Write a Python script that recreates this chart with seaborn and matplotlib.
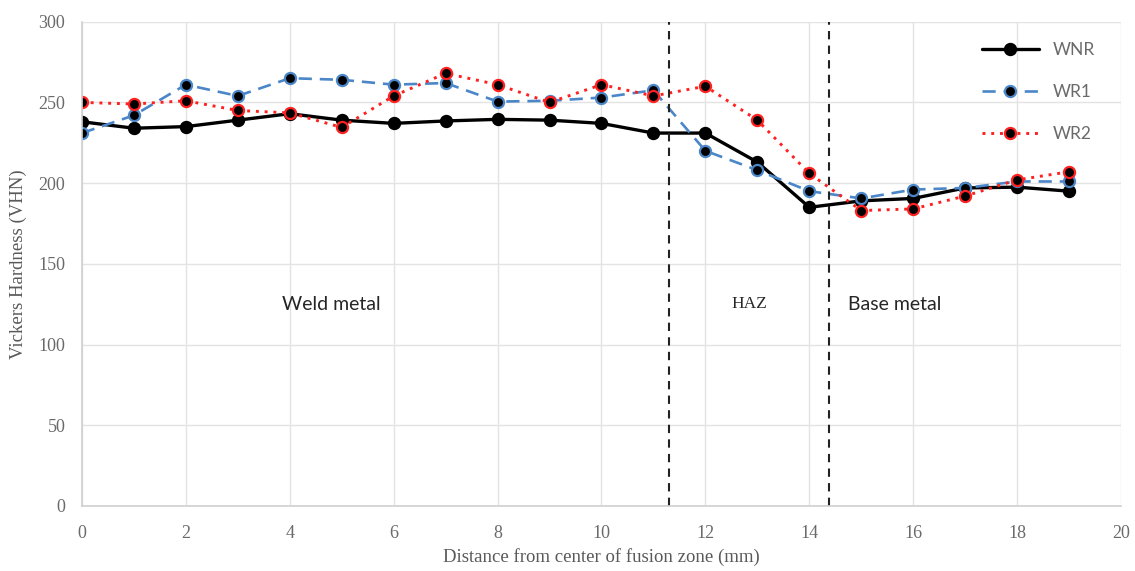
import numpy as np
import pandas as pd
import seaborn as sns
import matplotlib.pyplot as plt

# Distance from center of fusion zone (mm)
distance = list(range(20))

# Vickers hardness readings per sample
wnr = [238, 234, 235, 239, 243, 239, 237, 238.5, 239.5, 239, 237, 231, 231, 213, 185, 189, 190.5, 197, 197.5, 195]
wr1 = [231, 242, 261, 254, 265, 264, 261, 262, 250.5, 251, 253, 257.5, 220, 208, 195, 190.5, 196, 197, 201, 201]
wr2 = [250, 249, 251, 245, 243.5, 234.5, 254, 268, 261, 250, 261, 254, 260, 239, 206, 183, 184, 192, 202, 207]

series_names = ['WNR', 'WR1', 'WR2']
zone_bounds = [11.3, 14.37]
zone_labels = ['Weld metal', 'HAZ', 'Base metal']

df = pd.DataFrame({'Distance': distance * 3,
                   'Hardness': wnr + wr1 + wr2,
                   'Sample': np.repeat(series_names, len(distance))})

sns.set_style('white')
fig = plt.figure(figsize=(11.35, 5.71), dpi=100)
ax = fig.add_axes([0.0722, 0.114, 0.9155, 0.848])

styles = {
    'WNR': dict(color='black', linestyle='-', linewidth=2.4, mec='black'),
    'WR1': dict(color='#4a86c8', linestyle=(0, (5, 3)), linewidth=1.9, mec='#4a86c8'),
    'WR2': dict(color='#ff2020', linestyle=(0, (1, 2)), linewidth=2.1, mec='#ff2020'),
}
for name in series_names:
    s = styles[name]
    sns.lineplot(data=df[df['Sample'] == name], x='Distance', y='Hardness', ax=ax,
                 color=s['color'], linestyle=s['linestyle'], linewidth=s['linewidth'],
                 marker='o', markersize=8, markerfacecolor='black',
                 markeredgecolor=s['mec'], markeredgewidth=1.6, label=name)

for xb in zone_bounds:
    ax.axvline(xb, color='#222222', linestyle=(0, (4, 3)), linewidth=1.5)

ax.text(4.8, 125, zone_labels[0], fontsize=14, family='Lato', ha='center', va='center')
ax.text(12.85, 125, zone_labels[1], fontsize=12.5, family='Liberation Serif', ha='center', va='center')
ax.text(15.65, 125, zone_labels[2], fontsize=14, family='Lato', ha='center', va='center')

ax.set_xlim(0, 20)
ax.set_ylim(0, 300)
ax.set_xticks(range(0, 21, 2))
ax.set_yticks(range(0, 301, 50))
ax.grid(True, color='#e3e3e3', linewidth=1)
ax.set_axisbelow(True)
for sp in ['top', 'right']:
    ax.spines[sp].set_visible(False)
for sp in ['left', 'bottom']:
    ax.spines[sp].set_color('#d0d0d0')
    ax.spines[sp].set_linewidth(1.2)
ax.tick_params(axis='both', length=0, labelsize=13, labelcolor='#6a6a6a')
ax.tick_params(axis='x', pad=14)
ax.tick_params(axis='y', pad=12)
for lbl in ax.get_xticklabels() + ax.get_yticklabels():
    lbl.set_family('Liberation Serif')

ax.set_xlabel('Distance from center of fusion zone (mm)', family='Liberation Serif',
              fontsize=13.5, color='#595959', labelpad=4)
ax.set_ylabel('Vickers Hardness (VHN)', family='Liberation Serif',
              fontsize=13.5, color='#595959', labelpad=8)

leg = ax.legend(loc='upper right', bbox_to_anchor=(0.99, 0.99), frameon=False,
                handlelength=3.3, labelspacing=1.5,
                prop={'family': 'Lato', 'size': 12.5})
for t in leg.get_texts():
    t.set_color('#6a6a6a')

fig.savefig('out.png', dpi=100)
